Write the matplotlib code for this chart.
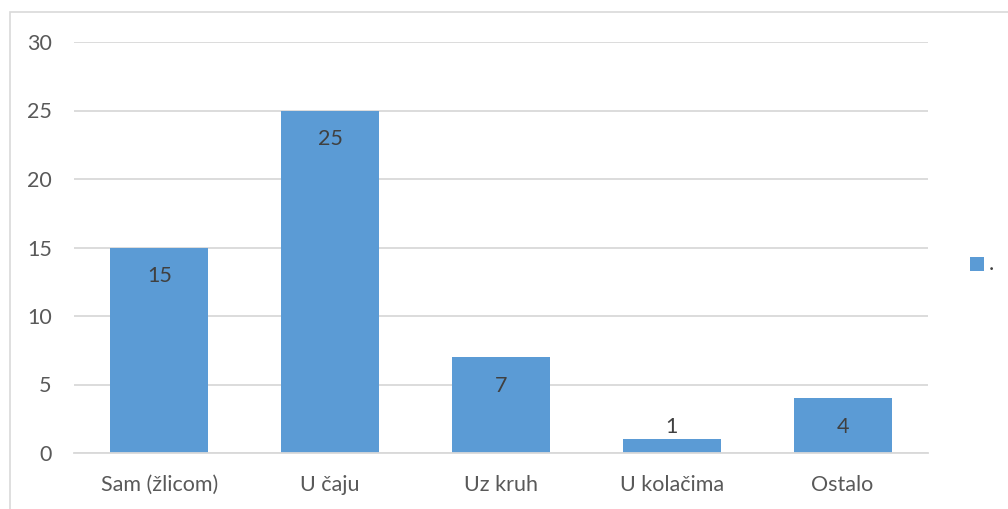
import matplotlib.pyplot as plt
import matplotlib.patches as mpatches

plt.rcParams.update({
    "font.family": ["Lato", "DejaVu Sans"],
    "font.size": 15.5,
})

categories = ["Sam (žlicom)", "U čaju", "Uz kruh", "U kolačima", "Ostalo"]
values = [15, 25, 7, 1, 4]
yticks = [0, 5, 10, 15, 20, 25, 30]

BAR_COLOR = "#5B9BD5"
GRID_COLOR = "#D9D9D9"
TICK_COLOR = "#595959"
LABEL_COLOR = "#404040"

fig = plt.figure(figsize=(10.08, 5.09), dpi=100)

# chart frame (cut off on the right and bottom in the original)
fig.patches.append(mpatches.Rectangle(
    (10 / 1008, -0.05), 1.1, (509 - 12) / 509 + 0.05,
    transform=fig.transFigure, fill=False, edgecolor=GRID_COLOR, linewidth=1.2))

ax = fig.add_axes([74 / 1008, 56 / 509, (928 - 74) / 1008, (453 - 42) / 509])

x = range(len(categories))
bars = ax.bar(x, values, width=0.573, color=BAR_COLOR, zorder=2, label=".")

for xi, v in zip(x, values):
    if v >= 3:
        ax.annotate(str(v), (xi, v), xytext=(0, -20.5), textcoords="offset points",
                    ha="center", va="center", color=LABEL_COLOR)
    else:
        ax.annotate(str(v), (xi, v), xytext=(0, 8.6), textcoords="offset points",
                    ha="center", va="center", color=LABEL_COLOR)

ax.set_xlim(-0.5, len(categories) - 0.5)
ax.set_ylim(0, 30)
ax.set_yticks(yticks)
ax.set_xticks(list(x))
ax.set_xticklabels(categories)
ax.yaxis.grid(True, color=GRID_COLOR, linewidth=1.3, zorder=0)
ax.set_axisbelow(True)
for s in ["top", "right", "left"]:
    ax.spines[s].set_visible(False)
ax.spines["bottom"].set_color(GRID_COLOR)
ax.spines["bottom"].set_linewidth(1.3)
ax.tick_params(axis="both", length=0, colors=TICK_COLOR)
ax.tick_params(axis="y", pad=16)
ax.tick_params(axis="x", pad=16)

# legend marker
fig.patches.append(mpatches.Rectangle(
    (970 / 1008, (509 - 271) / 509), 14 / 1008, 14 / 509,
    transform=fig.transFigure, facecolor=BAR_COLOR, edgecolor="none"))
fig.text(989 / 1008, (509 - 264) / 509, ".", color=LABEL_COLOR, ha="left", va="center")

fig.savefig("out.png", dpi=100)
